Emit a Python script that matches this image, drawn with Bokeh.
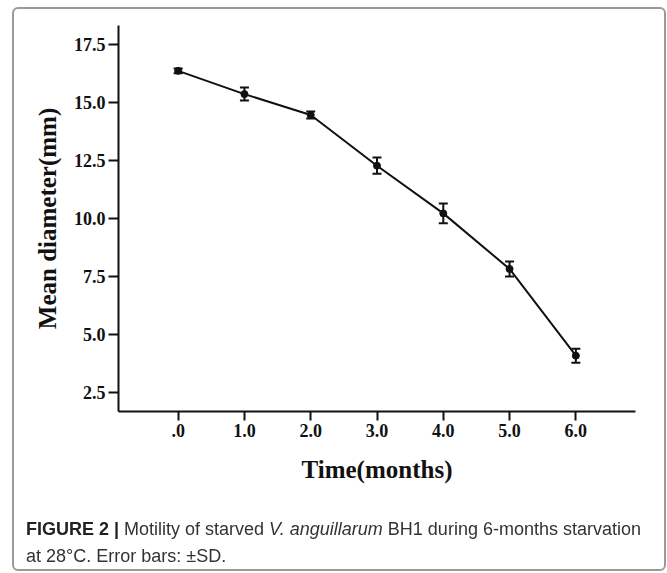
from bokeh.plotting import figure
from bokeh.models import (ColumnDataSource, Whisker, TeeHead, FixedTicker,
                          PrintfTickFormatter, Range1d, Div)
from bokeh.layouts import column
from bokeh.embed import file_html
from bokeh.resources import INLINE

# ---- data ----
months = [0, 1, 2, 3, 4, 5, 6]
mean_diameter = [16.35, 15.35, 14.45, 12.27, 10.22, 7.83, 4.10]
sd = [0.10, 0.28, 0.15, 0.35, 0.42, 0.32, 0.30]
x_ticks = [0, 1, 2, 3, 4, 5, 6]
x_tick_labels = [".0", "1.0", "2.0", "3.0", "4.0", "5.0", "6.0"]
y_ticks = [2.5, 5.0, 7.5, 10.0, 12.5, 15.0, 17.5]
x_title = "Time(months)"
y_title = "Mean diameter(mm)"
caption_bold = "FIGURE 2 |"
caption_pre = "Motility of starved"
caption_species = "V. anguillarum"
caption_post = "BH1 during 6-months starvation"
caption_line2 = "at 28\u00b0C. Error bars: \u00b1SD."

lower = [m - s for m, s in zip(mean_diameter, sd)]
upper = [m + s for m, s in zip(mean_diameter, sd)]
src = ColumnDataSource(dict(x=months, y=mean_diameter, lower=lower, upper=upper))

W = 667
PH = 500          # figure height; caption lives below it
FL, FR, FT, FB = 118, 635, 25, 411  # frame edges (px)

p = figure(width=W, height=PH, x_range=Range1d(-0.9, 6.9), y_range=Range1d(1.7, 18.3),
           output_backend="svg", toolbar_location=None,
           min_border_left=FL, min_border_right=W - FR,
           min_border_top=FT, min_border_bottom=PH - FB)
p.outline_line_color = None
p.grid.visible = False
p.background_fill_color = "white"
p.border_fill_color = "white"

for ax in (p.xaxis[0], p.yaxis[0]):
    ax.axis_line_width = 2
    ax.axis_line_color = "#111111"
    ax.major_tick_line_width = 2
    ax.major_tick_line_color = "#111111"
    ax.major_tick_in = 0
    ax.minor_tick_line_color = None
    ax.major_label_text_font = "Liberation Serif"
    ax.major_label_text_font_style = "bold"
    ax.major_label_text_font_size = "18px"
    ax.major_label_text_color = "#111111"
    ax.major_label_standoff = 3
    ax.axis_label_text_font = "Liberation Serif"
    ax.axis_label_text_font_style = "bold"
    ax.axis_label_text_font_size = "25px"
    ax.axis_label_text_color = "#111111"

p.xaxis.ticker = FixedTicker(ticks=x_ticks)
p.xaxis.major_label_overrides = {t: l for t, l in zip(x_ticks, x_tick_labels)}
p.xaxis.major_tick_out = 9
p.xaxis.axis_label = x_title
p.xaxis.axis_label_standoff = 16

p.yaxis.ticker = FixedTicker(ticks=y_ticks)
p.yaxis.formatter = PrintfTickFormatter(format="%.1f")
p.yaxis.major_tick_out = 10
p.yaxis.axis_label = y_title
p.yaxis.axis_label_standoff = 10

p.line("x", "y", source=src, line_width=2, line_color="#111111")
p.add_layout(Whisker(base="x", lower="lower", upper="upper", source=src,
                     line_width=2, line_color="#111111",
                     upper_head=TeeHead(size=9, line_width=2, line_color="#111111"),
                     lower_head=TeeHead(size=9, line_width=2, line_color="#111111")))
p.scatter("x", "y", source=src, size=7, color="#111111")

html = (
    '<div style="position:fixed;left:12px;top:7px;width:654px;height:564px;'
    'box-sizing:border-box;border:2px solid #9a9a9a;border-radius:6px;'
    'pointer-events:none;"></div>'
    '<div style="position:fixed;left:26px;top:516px;margin:0;padding:0;'
    "font-family:'Liberation Sans',Arial,sans-serif;font-size:18px;line-height:27px;"
    'color:#333333;white-space:nowrap;">'
    f'<b style="color:#222222">{caption_bold}</b> {caption_pre} '
    f'<i>{caption_species}</i> {caption_post}<br>{caption_line2}</div>'
)
cap = Div(text=html, width=W, height=573 - PH, margin=0)

layout = column(p, cap, spacing=0)
open("out.html", "w").write(file_html(layout, INLINE))
